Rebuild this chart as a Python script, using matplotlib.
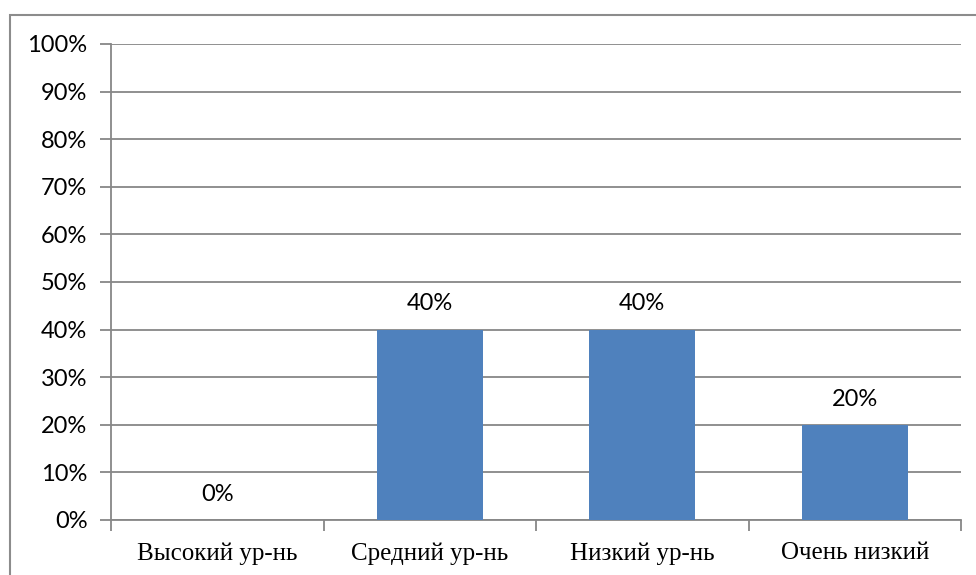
import matplotlib.pyplot as plt
from matplotlib.patches import Rectangle

categorias = ["Высокий ур-нь", "Средний ур-нь", "Низкий ур-нь", "Очень низкий"]
valores = [0, 40, 40, 20]
yticks = list(range(0, 101, 10))

gris = "#878787"
azul = "#4F81BD"

fig = plt.figure(figsize=(9.76, 5.75), dpi=100)
ax = fig.add_axes([111/976, 1-520/575, (961-111)/976, (520-44)/575])

x = list(range(len(categorias)))
ax.bar(x, valores, width=0.5, color=azul, zorder=3)
ax.set_xlim(-0.5, len(categorias)-0.5)
ax.set_ylim(0, 100)

for xi, v in zip(x, valores):
    ax.annotate(f"{v}%", (xi, v), xytext=(0, 18.5), textcoords="offset points",
                ha="center", va="center", fontsize=17, family="Lato", color="black")

ax.set_yticks(yticks)
ax.set_yticklabels([f"{t}%" for t in yticks], family="Lato", fontsize=17)
ax.yaxis.grid(True, color=gris, linewidth=1.3, zorder=0)
ax.tick_params(axis="y", length=8, width=1.3, color=gris, pad=9)

ax.set_xticks([i - 0.5 for i in range(len(categorias)+1)])
ax.set_xticklabels([])
ax.set_xticks(x, minor=True)
ax.set_xticklabels(categorias, minor=True, family="Liberation Serif", fontsize=18)
ax.tick_params(axis="x", which="major", length=8, width=1.3, color=gris)
ax.tick_params(axis="x", which="minor", length=0, pad=16)

for s in ["top", "right"]:
    ax.spines[s].set_visible(False)
for s in ["left", "bottom"]:
    ax.spines[s].set_color(gris)
    ax.spines[s].set_linewidth(1.3)

fig.patches.append(Rectangle((10/976, -0.1), 1.0, 1.1 - 15/575, transform=fig.transFigure,
                             fill=False, edgecolor="#8C8C8C", linewidth=1.5))

fig.savefig("out.png", dpi=100)
